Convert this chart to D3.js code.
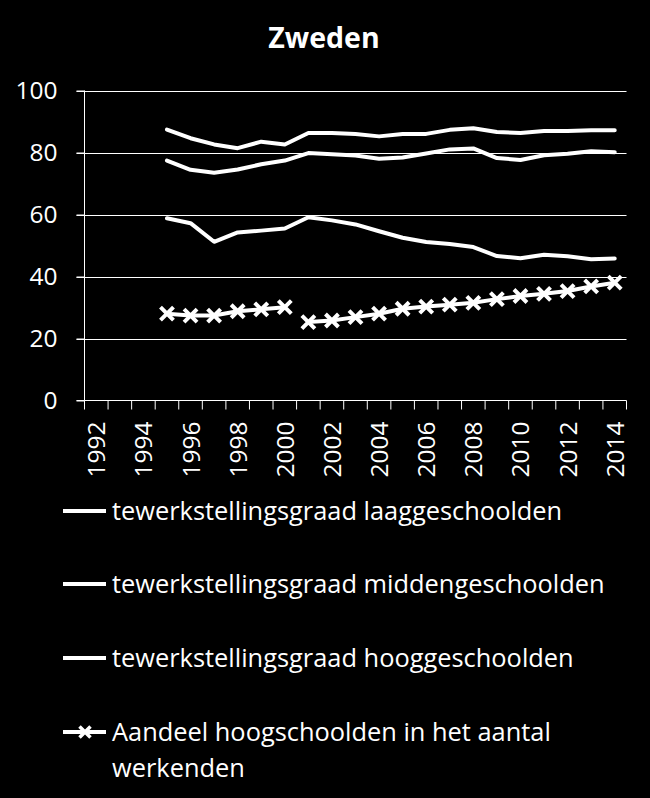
<!DOCTYPE html>
<html>
<head>
<meta charset="utf-8">
<script src="https://cdn.jsdelivr.net/npm/d3@7"></script>
<style>
  html, body { margin: 0; padding: 0; background: #000; }
  svg { display: block; }
  text { font-family: "Open Sans", sans-serif; fill: #fff; }
</style>
</head>
<body>
<svg id="chart" width="650" height="798"></svg>
<script>
const title = "Zweden";
const categories = d3.range(1992, 2015);
const years = d3.range(1995, 2015);
const yTicks = [0, 20, 40, 60, 80, 100];
const xTickLabels = [1992, 1994, 1996, 1998, 2000, 2002, 2004, 2006, 2008, 2010, 2012, 2014];

const laag = [58.8, 57.2, 51.2, 54.2, 54.8, 55.5, 59.1, 58.1, 56.8, 54.6, 52.5, 51.1, 50.5, 49.5, 46.6, 45.9, 47.0, 46.5, 45.6, 45.8];
const midden = [77.4, 74.4, 73.5, 74.5, 76.2, 77.4, 79.8, 79.4, 79.0, 78.0, 78.4, 79.7, 81.0, 81.3, 78.2, 77.6, 79.1, 79.6, 80.4, 80.1];
const hoog = [87.4, 84.6, 82.6, 81.4, 83.5, 82.6, 86.3, 86.3, 86.0, 85.2, 86.0, 86.0, 87.3, 87.8, 86.6, 86.3, 86.9, 86.9, 87.2, 87.2];
const aandeel = [28.0, 27.4, 27.4, 28.8, 29.4, 30.1, 25.3, 25.8, 26.9, 28.0, 29.6, 30.3, 30.9, 31.5, 32.7, 33.7, 34.4, 35.3, 36.8, 38.0];
const aandeelBreakAfter = 2000;

const legendLabels = [
  "tewerkstellingsgraad laaggeschoolden",
  "tewerkstellingsgraad middengeschoolden",
  "tewerkstellingsgraad hooggeschoolden",
  ["Aandeel hoogschoolden in het aantal", "werkenden"]
];

(function () {
const svg = d3.select("#chart");
const pLeft = 84.5, pRight = 626.5, pTop = 90.5, pBottom = 400.5;

const x = d3.scaleBand().domain(categories).range([pLeft, pRight]).padding(0);
const y = d3.scaleLinear().domain([0, 100]).range([pBottom, pTop]);
const cx = d => x(d) + x.bandwidth() / 2;

// Title
svg.append("text").attr("x", 324).attr("y", 48).attr("text-anchor", "middle")
  .attr("font-size", 28.5).attr("font-weight", "bold").text(title);

// Gridlines
svg.append("g").selectAll("line").data(yTicks.filter(t => t > 0)).join("line")
  .attr("x1", pLeft - 8).attr("x2", pRight)
  .attr("y1", d => Math.round(y(d)) + 0.5).attr("y2", d => Math.round(y(d)) + 0.5)
  .attr("stroke", "#fff").attr("stroke-width", 1);

// Y axis
const yAxis = svg.append("g").attr("transform", `translate(${pLeft},0)`)
  .call(d3.axisLeft(y).tickValues(yTicks).tickSize(8).tickPadding(19));
yAxis.select(".domain").attr("stroke", "#fff").attr("d", `M0,${pTop}V${pBottom}`);
yAxis.selectAll(".tick line").attr("stroke", "#fff");
yAxis.selectAll(".tick text").attr("font-size", 24.5).attr("fill", "#fff").attr("font-family", "Open Sans, sans-serif");

// X axis
const xg = svg.append("g").attr("transform", `translate(0,${pBottom})`);
xg.append("line").attr("x1", pLeft - 8).attr("x2", pRight).attr("y1", 0).attr("y2", 0).attr("stroke", "#fff");
const bounds = categories.map(c => x(c)).concat([pRight]);
xg.selectAll("line.tk").data(bounds).join("line").attr("class", "tk")
  .attr("x1", d => d).attr("x2", d => d).attr("y1", 0).attr("y2", 9).attr("stroke", "#fff");
xg.selectAll("text").data(xTickLabels).join("text")
  .attr("transform", d => `translate(${cx(d) + 9},21) rotate(-90)`)
  .attr("text-anchor", "end").attr("font-size", 24.5).text(d => d);

// Lines
const line = d3.line().x((d, i) => cx(years[i])).y(d => y(d));
[laag, midden, hoog].forEach(s => {
  svg.append("path").datum(s).attr("d", line).attr("fill", "none")
    .attr("stroke", "#fff").attr("stroke-width", 4).attr("stroke-linejoin", "round").attr("stroke-linecap", "round");
});

// Aandeel with break
const pts = years.map((yr, i) => ({ yr, v: aandeel[i] }));
const segs = [pts.filter(p => p.yr <= aandeelBreakAfter), pts.filter(p => p.yr > aandeelBreakAfter)];
const line2 = d3.line().x(p => cx(p.yr)).y(p => y(p.v));
segs.forEach(s => svg.append("path").datum(s).attr("d", line2).attr("fill", "none")
  .attr("stroke", "#fff").attr("stroke-width", 4).attr("stroke-linejoin", "round"));
const m = 6.5;
svg.append("g").selectAll("path").data(pts).join("path")
  .attr("d", p => `M${cx(p.yr) - m},${y(p.v) - m}L${cx(p.yr) + m},${y(p.v) + m}M${cx(p.yr) - m},${y(p.v) + m}L${cx(p.yr) + m},${y(p.v) - m}`)
  .attr("stroke", "#fff").attr("stroke-width", 4).attr("fill", "none");

// Legend
const legendY = [511, 584, 658, 732];
const lg = svg.append("g");
legendLabels.forEach((lab, i) => {
  const yy = legendY[i];
  lg.append("line").attr("x1", 63).attr("x2", 106).attr("y1", yy).attr("y2", yy)
    .attr("stroke", "#fff").attr("stroke-width", 4);
  if (i === 3) {
    const mm = 5.5;
    lg.append("path").attr("d", `M${85 - mm},${yy - mm}L${85 + mm},${yy + mm}M${85 - mm},${yy + mm}L${85 + mm},${yy - mm}`)
      .attr("stroke", "#fff").attr("stroke-width", 3.5);
  }
  const lines = Array.isArray(lab) ? lab : [lab];
  const t = lg.append("text").attr("x", 112).attr("y", yy + 9).attr("font-size", 25.4);
  lines.forEach((l, j) => t.append("tspan").attr("x", 112).attr("dy", j === 0 ? 0 : 36).text(l));
});
})();
</script>
</body>
</html>
